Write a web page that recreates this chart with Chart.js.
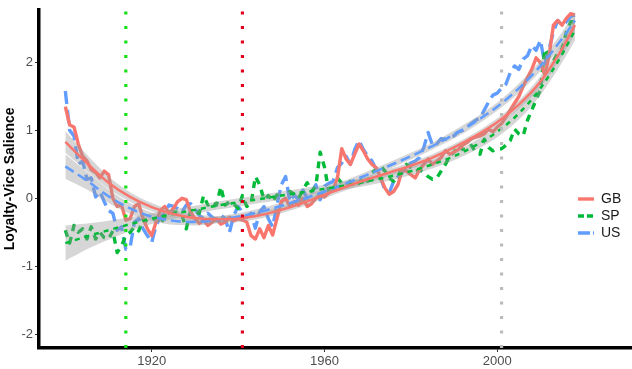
<!DOCTYPE html>
<html>
<head>
<meta charset="utf-8">
<script src="https://cdn.jsdelivr.net/npm/chart.js@4.4.1/dist/chart.umd.min.js"></script>
<style>
  html, body { margin: 0; padding: 0; background: #fff; }
  #wrap { width: 632px; height: 369px; }
</style>
</head>
<body>
<div id="wrap"><canvas id="salienceChart" width="632" height="369"></canvas></div>
<script>
// Loyalty-Vice salience by country, yearly series + loess fits

const years = Array.from({ length: 119 }, (_, i) => 1900 + i);

const seriesNames = ['GB', 'SP', 'US'];
const seriesColors = ['#F8766D', '#00BA38', '#619CFF'];

const gbValues = [
  1.35, 1.08, 1.05, 0.80, 0.62, 0.55, 0.42, 0.38, 0.30, 0.40,
  0.35, 0.00, -0.12, -0.10, -0.32, -0.30, -0.12, -0.08, -0.30, -0.45,
  -0.55, -0.35, -0.18, -0.12, -0.22, -0.15, -0.05, 0.00, -0.02, -0.20,
  -0.30, -0.37, -0.33, -0.40, -0.35, -0.30, -0.38, -0.35, -0.28, -0.33,
  -0.30, -0.32, -0.35, -0.55, -0.60, -0.45, -0.58, -0.40, -0.54, -0.30,
  -0.05, 0.00, -0.12, -0.05, -0.10, 0.00, -0.12, -0.08, 0.00, 0.05,
  0.02, 0.08, 0.13, 0.30, 0.73, 0.58, 0.50, 0.65, 0.80, 0.70,
  0.58, 0.50, 0.45, 0.30, 0.15, 0.06, 0.10, 0.20, 0.42, 0.40,
  0.35, 0.30, 0.42, 0.50, 0.58, 0.50, 0.55, 0.60, 0.70, 0.65,
  0.68, 0.72, 0.78, 0.82, 0.88, 0.90, 0.92, 0.95, 1.02, 0.98,
  1.05, 1.10, 1.20, 1.30, 1.40, 1.50, 1.65, 1.78, 1.90, 2.07,
  2.00, 1.82, 2.10, 2.55, 2.62, 2.55, 2.65, 2.72, 2.70
];

const spValues = [
  -0.47, -0.66, -0.40, -0.50, -0.45, -0.60, -0.42, -0.60, -0.50, -0.58,
  -0.60, -0.48, -0.80, -0.70, -0.55, -0.50, -0.42, -0.48, -0.30, -0.35,
  -0.32, -0.30, -0.38, -0.28, -0.22, -0.20, -0.20, -0.25, -0.45, -0.18,
  -0.20, -0.22, 0.04, -0.10, -0.05, -0.10, 0.17, -0.10, -0.05, -0.08,
  -0.15, 0.04, -0.12, -0.08, 0.32, 0.20, -0.02, 0.04, -0.05, 0.05,
  -0.05, 0.00, 0.10, 0.06, 0.00, 0.12, 0.23, 0.10, 0.18, 0.68,
  0.46, 0.10, 0.06, 0.30, 0.22, 0.20, 0.25, 0.20, 0.22, 0.32,
  0.25, 0.38, 0.42, 0.48, 0.40, 0.30, 0.25, 0.32, 0.45, 0.50,
  0.45, 0.40, 0.42, 0.38, 0.32, 0.28, 0.30, 0.40, 0.50, 0.62,
  0.68, 0.78, 0.72, 0.73, 0.78, 0.68, 0.65, 0.87, 0.75, 0.70,
  0.73, 0.73, 0.78, 0.85, 1.02, 0.95, 0.92, 1.15, 1.30, 1.45,
  1.60, 2.20, 2.10, 2.02, 2.14, 2.20, 2.45, 2.60, 2.60
];

const usValues = [
  1.58, 1.00, 0.92, 0.50, 0.55, 0.28, 0.30, 0.02, 0.10, -0.05,
  -0.18, -0.22, -0.47, -0.42, -0.75, -0.72, -0.35, -0.30, -0.45, -0.55,
  -0.65, -0.40, -0.28, -0.22, -0.10, -0.12, -0.15, -0.20, -0.10, -0.08,
  -0.15, -0.25, -0.30, -0.22, -0.28, -0.32, -0.25, -0.30, -0.50, -0.25,
  -0.12, -0.20, -0.28, -0.22, -0.44, -0.20, -0.12, -0.30, -0.42, -0.10,
  0.20, 0.32, -0.05, 0.05, -0.02, 0.12, 0.00, 0.08, 0.20, -0.02,
  0.18, 0.22, 0.25, 0.45, 0.52, 0.62, 0.50, 0.72, 0.85, 0.72,
  0.62, 0.55, 0.42, 0.30, 0.12, 0.08, 0.25, 0.32, 0.38, 0.50,
  0.52, 0.55, 0.60, 0.75, 0.97, 0.78, 0.80, 0.88, 0.87, 0.90,
  0.92, 0.98, 1.00, 1.05, 1.10, 1.15, 1.18, 1.30, 1.42, 1.52,
  1.55, 1.62, 1.68, 1.85, 1.95, 1.90, 2.05, 2.10, 2.25, 2.18,
  2.33, 1.98, 2.20, 2.45, 2.62, 2.55, 2.60, 2.68, 2.70
];

// fitted curves and half-width of the grey bands
const smoothYears = [1900, 1905, 1910, 1915, 1920, 1925, 1930, 1935, 1940, 1945, 1950, 1955,
  1960, 1965, 1970, 1975, 1980, 1985, 1990, 1995, 2000, 2005, 2010, 2015, 2018];
const gbSmooth = [0.83, 0.52, 0.23, 0.02, -0.13, -0.23, -0.29, -0.31, -0.30, -0.25, -0.17, -0.07,
  0.05, 0.17, 0.28, 0.38, 0.48, 0.60, 0.75, 0.92, 1.12, 1.38, 1.72, 2.20, 2.55];
const spSmooth = [-0.66, -0.56, -0.47, -0.38, -0.30, -0.23, -0.17, -0.11, -0.06, -0.01, 0.04, 0.09,
  0.14, 0.19, 0.25, 0.32, 0.40, 0.50, 0.62, 0.78, 0.98, 1.25, 1.62, 2.12, 2.48];
const usSmooth = [0.47, 0.26, 0.03, -0.15, -0.27, -0.33, -0.35, -0.32, -0.27, -0.20, -0.11, -0.01,
  0.10, 0.22, 0.35, 0.48, 0.62, 0.77, 0.94, 1.13, 1.35, 1.62, 1.95, 2.35, 2.62];
const gbBand = [0.16, 0.12, 0.09, 0.07, 0.06, 0.05, 0.05, 0.05, 0.05, 0.05, 0.05, 0.05,
  0.05, 0.05, 0.05, 0.05, 0.05, 0.05, 0.05, 0.05, 0.06, 0.06, 0.08, 0.10, 0.13];
const spBand = [0.26, 0.19, 0.14, 0.10, 0.08, 0.07, 0.06, 0.06, 0.06, 0.06, 0.06, 0.06,
  0.06, 0.06, 0.06, 0.06, 0.06, 0.06, 0.06, 0.07, 0.08, 0.09, 0.10, 0.12, 0.15];
const usBand = [0.18, 0.13, 0.10, 0.08, 0.06, 0.06, 0.05, 0.05, 0.05, 0.05, 0.05, 0.05,
  0.05, 0.05, 0.05, 0.05, 0.05, 0.05, 0.06, 0.06, 0.06, 0.07, 0.08, 0.10, 0.13];

const eventYears = [1914, 1941, 2001];
const eventColors = ['#16E016', '#E0001B', '#BBBBBB'];

const xTicks = [1920, 1960, 2000];
const yTicks = [-2, -1, 0, 1, 2];

const X_MIN = 1893.9, X_MAX = 2031.2;
const Y_MIN = -2.205, Y_MAX = 2.777;

const allValues = [gbValues, spValues, usValues];
const allSmooth = [gbSmooth, spSmooth, usSmooth];
const allBands = [gbBand, spBand, usBand];
const lineDash = [[], [7, 6], [13, 6]];
const smoothDash = [[], [5, 5], [10, 5]];

function pts(xs, ys) {
  return xs.map((x, i) => ({ x: x, y: ys[i] }));
}

const datasets = [];

// raw yearly lines (bottom)
seriesNames.forEach((name, s) => {
  datasets.push({
    label: name,
    data: pts(years, allValues[s]),
    borderColor: seriesColors[s],
    borderWidth: 3.4,
    borderDash: lineDash[s],
    borderCapStyle: 'butt',
    borderJoinStyle: 'round',
    pointRadius: 0,
    tension: 0,
    fill: false,
    order: 10
  });
});

// confidence bands
seriesNames.forEach((name, s) => {
  datasets.push({
    label: name + ' upper',
    data: pts(smoothYears, allSmooth[s].map((v, i) => v + allBands[s][i])),
    borderWidth: 0,
    borderColor: 'rgba(0,0,0,0)',
    pointRadius: 0,
    cubicInterpolationMode: 'monotone',
    backgroundColor: 'rgba(153,153,153,0.4)',
    fill: '+1',
    order: 5
  });
  datasets.push({
    label: name + ' lower',
    data: pts(smoothYears, allSmooth[s].map((v, i) => v - allBands[s][i])),
    borderWidth: 0,
    borderColor: 'rgba(0,0,0,0)',
    pointRadius: 0,
    cubicInterpolationMode: 'monotone',
    fill: false,
    order: 5
  });
});

// fitted lines
seriesNames.forEach((name, s) => {
  datasets.push({
    label: name + ' fit',
    data: pts(smoothYears, allSmooth[s]),
    borderColor: seriesColors[s],
    borderWidth: 2.5,
    borderDash: smoothDash[s],
    borderCapStyle: 'butt',
    pointRadius: 0,
    cubicInterpolationMode: 'monotone',
    fill: false,
    order: 3
  });
});

// dotted event markers
eventYears.forEach((yr, i) => {
  datasets.push({
    label: 'event ' + yr,
    data: [{ x: yr, y: Y_MIN }, { x: yr, y: Y_MAX }],
    borderColor: eventColors[i],
    borderWidth: 3.2,
    borderDash: [3, 11.5],
    borderCapStyle: 'butt',
    pointRadius: 0,
    fill: false,
    order: 1
  });
});

const legendPlugin = {
  id: 'sideLegend',
  afterDraw(chart) {
    const ctx = chart.ctx;
    ctx.save();
    seriesNames.forEach((name, s) => {
      const y = 199 + s * 17;
      ctx.beginPath();
      ctx.strokeStyle = seriesColors[s];
      ctx.lineWidth = 3.4;
      ctx.lineCap = 'butt';
      ctx.setLineDash(s === 1 ? [6, 3] : s === 2 ? [12, 3] : []);
      ctx.moveTo(578, y);
      ctx.lineTo(594, y);
      ctx.stroke();
      ctx.setLineDash([]);
      ctx.fillStyle = '#1A1A1A';
      ctx.font = '14px "Liberation Sans", Arial, sans-serif';
      ctx.textBaseline = 'middle';
      ctx.textAlign = 'left';
      ctx.fillText(name, 601, y + 0.5);
    });
    ctx.restore();
  }
};

new Chart(document.getElementById('salienceChart').getContext('2d'), {
  type: 'line',
  data: { datasets: datasets },
  options: {
    responsive: false,
    devicePixelRatio: 1,
    animation: false,
    layout: { padding: 0 },
    plugins: {
      legend: { display: false },
      tooltip: { enabled: false }
    },
    scales: {
      x: {
        type: 'linear',
        min: X_MIN,
        max: X_MAX,
        grid: { display: true, drawOnChartArea: false, drawTicks: true, tickLength: 4, color: '#333333', lineWidth: 1 },
        border: { display: true, color: '#000000', width: 3.5 },
        ticks: {
          color: '#4D4D4D',
          font: { family: '"Liberation Sans", Arial, sans-serif', size: 13 },
          padding: 2,
          maxRotation: 0,
          callback: v => String(v)
        },
        afterBuildTicks: scale => { scale.ticks = xTicks.map(v => ({ value: v })); },
        afterFit: scale => { scale.height = 21; }
      },
      y: {
        type: 'linear',
        min: Y_MIN,
        max: Y_MAX,
        grid: { display: true, drawOnChartArea: false, drawTicks: true, tickLength: 4, color: '#333333', lineWidth: 1 },
        border: { display: true, color: '#000000', width: 3.5 },
        ticks: {
          color: '#4D4D4D',
          font: { family: '"Liberation Sans", Arial, sans-serif', size: 13 },
          padding: 2,
          callback: v => String(v)
        },
        title: {
          display: true,
          text: 'Loyalty-Vice Salience',
          color: '#000000',
          font: { family: '"Liberation Sans", Arial, sans-serif', size: 14, weight: 'bold' },
          padding: { top: 2, bottom: 0 }
        },
        afterBuildTicks: scale => { scale.ticks = yTicks.map(v => ({ value: v })); },
        afterFit: scale => { scale.width = 39; }
      }
    }
  },
  plugins: [legendPlugin]
});
</script>
</body>
</html>
